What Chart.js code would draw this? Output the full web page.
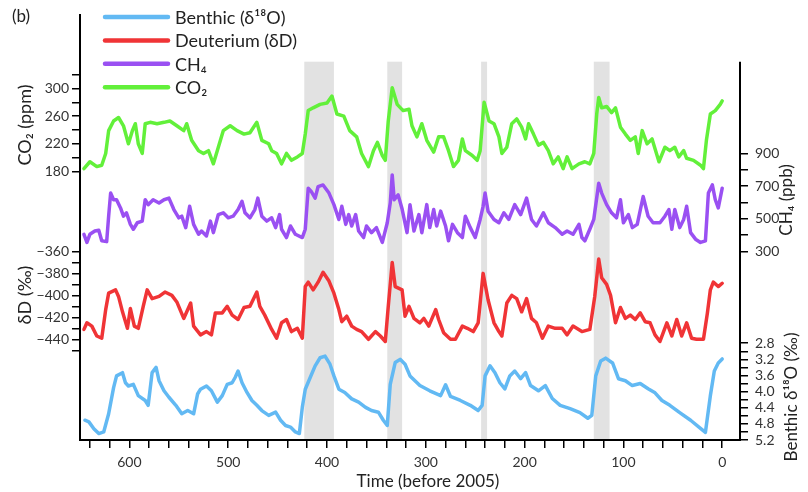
<!DOCTYPE html>
<html>
<head>
<meta charset="utf-8">
<script src="https://cdn.jsdelivr.net/npm/chart.js@4.4.1/dist/chart.umd.min.js"></script>
<style>
  html, body { margin: 0; padding: 0; background: #fff; }
  #wrap { width: 808px; height: 492px; }
</style>
</head>
<body>
<div id="wrap"><canvas id="chart" width="808" height="492"></canvas></div>
<script>
// ages in thousand years before 2005
const co2Age = [646, 640, 633, 628, 624, 621, 616, 611, 606, 601, 597, 594, 591, 587, 584, 579, 572, 565, 559, 552, 545, 542, 537, 530, 525, 520, 515, 510, 505, 498, 491, 484, 478, 471, 466, 459, 456, 451, 446, 441, 436, 430, 425, 422, 419, 414, 407, 400, 395, 390, 383, 377, 370, 365, 358, 353, 349, 344, 341, 338, 334, 329, 323, 317, 314, 309, 304, 299, 292, 287, 282, 277, 272, 267, 263, 260, 253, 248, 245, 241, 236, 231, 226, 223, 218, 213, 208, 203, 199, 196, 191, 186, 181, 176, 171, 166, 161, 157, 152, 145, 139, 134, 130, 127, 125, 122, 117, 112, 108, 103, 98, 93, 88, 85, 81, 76, 71, 64, 58, 53, 48, 44, 39, 36, 29, 22, 19, 16, 12, 7, 2, 0];
const co2Ppm = [184, 194, 187, 189, 206, 239, 253, 258, 246, 220, 239, 249, 220, 206, 249, 251, 249, 251, 253, 246, 239, 249, 225, 210, 206, 210, 191, 215, 239, 246, 239, 234, 236, 251, 225, 220, 210, 206, 191, 206, 196, 201, 206, 234, 268, 272, 277, 279, 289, 263, 260, 239, 230, 206, 187, 210, 222, 203, 196, 253, 301, 277, 268, 270, 246, 230, 249, 225, 208, 230, 230, 210, 187, 196, 227, 210, 203, 196, 210, 280, 253, 249, 230, 206, 215, 249, 256, 244, 227, 249, 234, 218, 222, 210, 191, 201, 184, 201, 184, 191, 194, 191, 206, 263, 287, 272, 274, 265, 272, 244, 234, 225, 230, 206, 239, 220, 227, 194, 215, 210, 215, 201, 210, 199, 196, 189, 184, 225, 263, 268, 277, 282];

const ch4Age = [646, 643, 640, 635, 631, 628, 623, 621, 619, 616, 613, 609, 606, 603, 599, 596, 592, 587, 584, 581, 576, 570, 565, 560, 555, 550, 547, 543, 539, 535, 530, 527, 522, 518, 515, 510, 505, 500, 495, 490, 486, 483, 478, 473, 470, 466, 461, 456, 452, 448, 446, 441, 437, 432, 425, 422, 419, 416, 412, 409, 404, 398, 393, 388, 385, 381, 378, 375, 371, 368, 363, 360, 355, 350, 344, 339, 336, 334, 332, 328, 324, 319, 316, 312, 307, 304, 299, 296, 292, 289, 285, 280, 277, 273, 268, 263, 260, 255, 250, 245, 242, 240, 237, 231, 226, 221, 216, 210, 204, 198, 193, 188, 181, 176, 169, 162, 157, 151, 145, 142, 139, 134, 130, 125, 122, 117, 112, 107, 103, 100, 95, 91, 86, 80, 75, 70, 63, 58, 54, 51, 48, 43, 39, 36, 32, 27, 22, 17, 14, 10, 7, 4, 0];
const ch4Ppb = [405, 355, 405, 425, 430, 365, 360, 516, 658, 617, 617, 567, 516, 537, 466, 436, 476, 486, 617, 587, 617, 597, 617, 627, 557, 506, 516, 446, 577, 466, 405, 425, 395, 486, 415, 526, 537, 506, 516, 557, 607, 537, 506, 557, 627, 516, 486, 506, 446, 526, 436, 385, 456, 405, 385, 436, 688, 668, 627, 698, 708, 658, 587, 496, 577, 466, 526, 456, 526, 425, 385, 456, 415, 446, 355, 476, 597, 769, 617, 647, 560, 415, 587, 425, 526, 415, 587, 446, 557, 456, 547, 456, 365, 466, 415, 385, 516, 446, 385, 496, 577, 658, 547, 496, 476, 537, 496, 587, 526, 627, 496, 456, 537, 476, 446, 405, 425, 405, 466, 385, 365, 436, 496, 718, 658, 587, 537, 506, 617, 476, 526, 446, 466, 637, 516, 476, 476, 516, 557, 436, 557, 446, 496, 577, 415, 375, 355, 365, 658, 708, 617, 567, 688];

const dDAge = [646, 643, 638, 633, 628, 624, 621, 614, 611, 607, 602, 599, 595, 591, 586, 582, 577, 570, 564, 557, 552, 545, 538, 535, 528, 522, 517, 513, 506, 501, 496, 490, 484, 478, 471, 468, 463, 456, 451, 446, 441, 436, 430, 425, 422, 419, 414, 409, 404, 398, 393, 388, 385, 380, 375, 370, 365, 358, 351, 346, 341, 338, 334, 331, 324, 321, 317, 312, 306, 302, 297, 290, 287, 282, 275, 270, 263, 258, 252, 247, 242, 237, 231, 226, 223, 218, 213, 208, 203, 198, 193, 188, 182, 176, 169, 162, 157, 151, 142, 134, 129, 125, 122, 117, 113, 108, 103, 98, 93, 88, 83, 78, 73, 68, 63, 56, 51, 46, 41, 36, 31, 26, 19, 15, 12, 9, 4, 0];
const dDPermil = [-431, -425, -428, -437, -439, -413, -398, -395, -401, -415, -430, -412, -428, -430, -410, -395, -403, -401, -397, -400, -406, -421, -407, -428, -436, -433, -436, -416, -416, -410, -418, -422, -411, -410, -397, -410, -418, -431, -439, -425, -422, -433, -430, -439, -392, -388, -395, -388, -379, -387, -398, -413, -424, -419, -428, -431, -433, -440, -433, -437, -442, -410, -370, -392, -395, -419, -410, -421, -425, -421, -428, -413, -422, -434, -440, -440, -428, -430, -433, -425, -380, -404, -425, -433, -437, -407, -400, -403, -415, -403, -421, -425, -439, -428, -430, -430, -436, -428, -433, -431, -401, -367, -384, -390, -400, -425, -411, -421, -418, -422, -416, -424, -425, -436, -442, -425, -437, -422, -437, -425, -439, -440, -440, -416, -395, -388, -392, -389];

const benthicAge = [645, 641, 636, 631, 626, 621, 616, 613, 607, 604, 601, 596, 591, 584, 581, 577, 573, 570, 565, 560, 553, 547, 541, 535, 531, 528, 522, 517, 511, 506, 501, 496, 493, 490, 486, 481, 476, 471, 466, 459, 452, 447, 442, 437, 432, 428, 425, 422, 417, 412, 407, 402, 397, 393, 388, 382, 375, 368, 361, 355, 348, 343, 339, 336, 331, 326, 321, 316, 306, 296, 285, 280, 275, 265, 255, 247, 243, 240, 235, 230, 225, 220, 215, 210, 204, 199, 194, 186, 179, 172, 164, 154, 144, 136, 132, 128, 123, 118, 111, 105, 98, 91, 83, 75, 68, 61, 53, 43, 32, 22, 17, 12, 8, 4, 0];
const benthicPermil = [4.71, 4.75, 4.92, 5.04, 5.0, 4.55, 3.90, 3.61, 3.53, 3.78, 3.86, 3.82, 4.10, 4.22, 4.34, 3.53, 3.40, 3.73, 3.98, 4.14, 4.34, 4.55, 4.47, 4.55, 4.06, 3.94, 3.86, 3.98, 4.26, 4.10, 3.82, 3.78, 3.65, 3.49, 3.78, 4.02, 4.22, 4.34, 4.47, 4.59, 4.51, 4.71, 4.84, 4.88, 5.0, 5.04, 4.39, 3.94, 3.65, 3.36, 3.16, 3.12, 3.32, 3.61, 3.94, 4.02, 4.18, 4.26, 4.39, 4.47, 4.51, 4.71, 4.84, 3.82, 3.28, 3.20, 3.32, 3.61, 3.85, 3.98, 4.10, 3.83, 4.12, 4.22, 4.34, 4.47, 4.34, 3.61, 3.36, 3.53, 3.78, 3.93, 3.61, 3.49, 3.68, 3.53, 3.85, 3.98, 3.85, 4.17, 4.34, 4.42, 4.52, 4.66, 4.59, 3.61, 3.24, 3.17, 3.29, 3.68, 3.73, 3.85, 3.80, 3.93, 4.03, 4.22, 4.34, 4.52, 4.71, 4.91, 5.01, 4.10, 3.49, 3.29, 3.19];

// shaded interglacials [from, to]
const interglacials = [[423, 393], [339, 324], [244, 238], [130, 114]];

const timeTicks = [640, 620, 600, 580, 560, 540, 520, 500, 480, 460, 440, 420, 400, 380, 360, 340, 320, 300, 280, 260, 240, 220, 200, 180, 160, 140, 120, 100, 80, 60, 40, 20, 0];
const timeLabels = [600, 500, 400, 300, 200, 100, 0];
const co2Ticks = [180, 200, 220, 240, 260, 280, 300, 320];
const co2Labels = [180, 220, 260, 300];
const dDTicks = [-450, -440, -430, -420, -410, -400, -390, -380, -370, -360];
const dDLabels = [-440, -420, -400, -380, -360];
const ch4Ticks = [300, 400, 500, 600, 700, 800, 900];
const ch4Labels = [300, 500, 700, 900];
const benthicTicks = [2.8, 3.0, 3.2, 3.4, 3.6, 3.8, 4.0, 4.2, 4.4, 4.6, 4.8, 5.0, 5.2];
const benthicLabels = [2.8, 3.2, 3.6, 4.0, 4.4, 4.8, 5.2];

const FONT = "Lato, 'Open Sans', sans-serif";
const AREA = { left: 80, right: 740, top: 10, bottom: 440 };
const BAND_TOP = 0.109; // share of plot height above the shading / right axis

// min/max so that v1 lands on pixel y1 and v2 on y2
function range(v1, y1, v2, y2, reverse) {
    const h = AREA.bottom - AREA.top;
    const f = y => reverse ? (y - AREA.top) / h : (AREA.bottom - y) / h;
    const span = (v1 - v2) / (f(y1) - f(y2));
    const min = v1 - f(y1) * span;
    return { min, max: min + span, reverse: !!reverse };
}
function frac(r, v) {
    const t = (v - r.min) / (r.max - r.min);
    return r.reverse ? 1 - t : t;
}
const minus = v => String(v).replace('-', '\u2212');

const rCO2 = range(300, 84, 180, 168);
const rCH4 = range(900, 150, 300, 249);
const rD = range(-360, 249, -440, 338);
const rB = range(5.2, 440, 2.8, 342, true);

const leftTicks = co2Ticks.map(v => ({ value: frac(rCO2, v), label: co2Labels.includes(v) ? String(v) : '' }))
    .concat(dDTicks.map(v => ({ value: frac(rD, v), label: dDLabels.includes(v) ? minus(v) : '' })));
const rightTicks = ch4Ticks.map(v => ({ value: frac(rCH4, v), label: ch4Labels.includes(v) ? String(v) : '' }))
    .concat(benthicTicks.map(v => ({ value: frac(rB, v), label: benthicLabels.includes(v) ? v.toFixed(1) : '' })));

const points = (xs, ys) => xs.map((x, i) => ({ x, y: ys[i] }));

function line(label, xs, ys, color, axis) {
    return {
        label, data: points(xs, ys), yAxisID: axis,
        borderColor: color, backgroundColor: color,
        borderWidth: 3.5, pointRadius: 0, tension: 0, fill: false,
        borderJoinStyle: "round", borderCapStyle: "round"
    };
}

function frameAxis(position, list) {
    return {
        type: "linear", position, min: 0, max: 1,
        afterBuildTicks(scale) { scale.ticks = list.map(t => ({ value: t.value })); },
        afterFit(scale) { scale.width = position === "left" ? AREA.left : 808 - AREA.right; },
        ticks: {
            autoSkip: false, padding: position === "left" ? 3 : 7,
            color: "#333", font: { family: FONT, size: 14 },
            callback: (v, i) => list[i].label
        },
        grid: { drawOnChartArea: false, tickLength: 8, color: "#000", lineWidth: 1.5 },
        border: { display: position === "left", color: "#000", width: 2 }
    };
}

const hidden = r => ({ type: "linear", display: false, min: r.min, max: r.max, reverse: r.reverse });

const decor = {
    id: "decor",
    beforeDatasetsDraw(chart) {
        const { ctx, chartArea: a, scales: { x } } = chart;
        const top = a.top + BAND_TOP * (a.bottom - a.top);
        ctx.save();
        ctx.fillStyle = "#e2e2e2";
        interglacials.forEach(([from, to]) => {
            const x1 = x.getPixelForValue(from);
            const x2 = x.getPixelForValue(to);
            ctx.fillRect(x1, top, x2 - x1, a.bottom - top - 1);
        });
        ctx.restore();
    },
    afterDraw(chart) {
        const { ctx, chartArea: a } = chart;
        const top = a.top + BAND_TOP * (a.bottom - a.top);
        ctx.save();
        // right axis line starts lower than the left one
        ctx.strokeStyle = "#000";
        ctx.lineWidth = 2;
        ctx.beginPath();
        ctx.moveTo(a.right, top);
        ctx.lineTo(a.right, a.bottom + 1);
        ctx.stroke();

        ctx.fillStyle = "#222";
        ctx.textBaseline = "middle";
        ctx.font = `17px ${FONT}`;
        ctx.textAlign = "left";
        ctx.fillText("(b)", 12, 17);

        // legend
        ctx.font = `18px ${FONT}`;
        chart.data.datasets.forEach((ds, i) => {
            const y = 17 + i * 23.4;
            ctx.strokeStyle = ds.borderColor;
            ctx.lineWidth = 4.5;
            ctx.lineCap = "round";
            ctx.beginPath();
            ctx.moveTo(105, y);
            ctx.lineTo(168, y);
            ctx.stroke();
            ctx.fillText(ds.label, 175, y + 1);
        });

        // axis titles
        ctx.font = `17px ${FONT}`;
        ctx.textAlign = "center";
        ctx.fillText("Time (before 2005)", 428, 482);
        const vtext = (text, x, y) => {
            ctx.save();
            ctx.translate(x, y);
            ctx.rotate(-Math.PI / 2);
            ctx.fillText(text, 0, 0);
            ctx.restore();
        };
        ctx.font = `18px ${FONT}`;
        vtext("CO\u2082 (ppm)", 25, 125);
        vtext("\u03B4D (\u2030)", 25, 295);
        ctx.font = `17px ${FONT}`;
        vtext("CH\u2084 (ppb)", 787, 200);
        vtext("Benthic \u03B4\u00B9\u2078O (\u2030)", 792, 397);
        ctx.restore();
    }
};

new Chart(document.getElementById("chart"), {
    type: "line",
    data: {
        datasets: [
            line("Benthic (\u03B4\u00B9\u2078O)", benthicAge, benthicPermil, "#62b9f3", "yB"),
            line("Deuterium (\u03B4D)", dDAge, dDPermil, "#f03436", "yD"),
            line("CH\u2084", ch4Age, ch4Ppb, "#9a50f2", "yCH4"),
            line("CO\u2082", co2Age, co2Ppm, "#62f03a", "yCO2")
        ]
    },
    options: {
        responsive: false,
        devicePixelRatio: 1,
        animation: false,
        layout: { padding: { top: AREA.top, left: 0, right: 0, bottom: 0 } },
        plugins: { legend: { display: false }, tooltip: { enabled: false } },
        scales: {
            x: {
                type: "linear", min: -18, max: 650, reverse: true,
                afterBuildTicks(scale) { scale.ticks = timeTicks.map(v => ({ value: v })); },
                afterFit(scale) { scale.height = 492 - AREA.bottom; },
                ticks: {
                    autoSkip: false, maxRotation: 0, padding: 6,
                    color: "#333", font: { family: FONT, size: 14 },
                    callback: v => timeLabels.includes(v) ? String(v) : ""
                },
                grid: { drawOnChartArea: false, tickLength: 8, color: "#000", lineWidth: 1.5 },
                border: { color: "#000", width: 2 }
            },
            yLeft: frameAxis("left", leftTicks),
            yRight: frameAxis("right", rightTicks),
            yCO2: hidden(rCO2),
            yCH4: hidden(rCH4),
            yD: hidden(rD),
            yB: hidden(rB)
        }
    },
    plugins: [decor]
});
</script>
</body>
</html>
